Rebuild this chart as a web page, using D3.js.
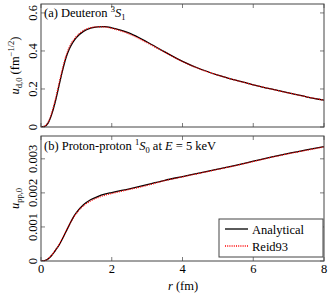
<!DOCTYPE html>
<html><head><meta charset="utf-8">
<script src="https://cdn.jsdelivr.net/npm/d3@7"></script>
<style>body{margin:0;background:#fff}svg{display:block}</style>
</head><body><svg id="c" width="332" height="299" font-family="'Liberation Serif','DejaVu Serif','Noto Serif','Times New Roman',Times,serif"></svg>
<script>
// Deuteron 3S1
const rD = [0,0.1,0.2,0.3,0.4,0.5,0.6,0.7,0.8,0.9,1.0,1.2,1.4,1.6,1.8,2.0,2.25,2.5,2.75,3.0,3.5,4.0,4.5,5.0,5.5,6.0,6.5,7.0,7.5,8.0];
const uDAnalytic = [0,0.003,0.02,0.065,0.13,0.21,0.29,0.36,0.41,0.445,0.47,0.503,0.52,0.527,0.528,0.522,0.51,0.494,0.472,0.447,0.395,0.345,0.305,0.273,0.246,0.222,0.200,0.179,0.159,0.141];
const uDReid = [0,0.004,0.024,0.072,0.14,0.22,0.30,0.37,0.42,0.453,0.476,0.507,0.522,0.527,0.526,0.519,0.506,0.489,0.467,0.443,0.393,0.344,0.304,0.273,0.246,0.222,0.200,0.179,0.159,0.141];
// Proton-proton 1S0, E = 5 keV
const rP = [0,0.1,0.2,0.3,0.4,0.5,0.6,0.7,0.8,0.9,1.0,1.2,1.4,1.6,1.8,2.0,2.5,3.0,3.5,4.0,4.5,5.0,5.5,6.0,6.5,7.0,7.5,8.0];
const uPAnalytic = [0,0.00001,0.00006,0.00016,0.0003,0.00045,0.00064,0.00085,0.00106,0.00126,0.00142,0.00165,0.0018,0.00189,0.00196,0.00201,0.00212,0.00224,0.00237,0.00248,0.00259,0.0027,0.00281,0.00293,0.00305,0.00316,0.00326,0.00336];
const uPReid = [0,0.00001,0.00007,0.00017,0.00031,0.00046,0.00065,0.00086,0.00106,0.00125,0.0014,0.00162,0.00176,0.00186,0.00193,0.00198,0.0021,0.00222,0.00236,0.00247,0.00258,0.00269,0.0028,0.00292,0.00304,0.00315,0.00325,0.00335];
const xTicks = [0,2,4,6,8];
const yTicksA = [0,0.2,0.4,0.6];
const yTicksB = [0,0.001,0.002,0.003];
const yTickLabelsB = ["0","0.001","0.002","0.003"];
const legendLabels = ["Analytical","Reid93"];

const svg = d3.select("#c");
const L = 41, R = 324;
const x = d3.scaleLinear().domain([0,8]).range([L,R]);
const panels = [
  {top:4, bottom:127, ymax:0.647, ticks:yTicksA, labels:yTicksA.map(d=>d===0?"0":d.toFixed(1)), r:rD, a:uDAnalytic, b:uDReid, xlabels:false},
  {top:136, bottom:261, ymax:0.00367, ticks:yTicksB, labels:yTickLabelsB, r:rP, a:uPAnalytic, b:uPReid, xlabels:true}
];
const frameCol = "#444";
const fs = 12.5, sfs = 8.5;
panels.forEach((p,i)=>{
  const y = d3.scaleLinear().domain([0,p.ymax]).range([p.bottom,p.top]);
  const g = svg.append("g");
  const clipId = "clip"+i;
  svg.append("clipPath").attr("id",clipId).append("rect").attr("x",L).attr("y",p.top).attr("width",R-L).attr("height",p.bottom-p.top);
  const tl = 4;
  xTicks.forEach(t=>{
    g.append("line").attr("x1",x(t)).attr("x2",x(t)).attr("y1",p.bottom).attr("y2",p.bottom-tl).attr("stroke",frameCol).attr("stroke-width",0.7);
    g.append("line").attr("x1",x(t)).attr("x2",x(t)).attr("y1",p.top).attr("y2",p.top+tl).attr("stroke",frameCol).attr("stroke-width",0.7);
  });
  p.ticks.forEach((t,k)=>{
    g.append("line").attr("x1",L).attr("x2",L+tl).attr("y1",y(t)).attr("y2",y(t)).attr("stroke",frameCol).attr("stroke-width",0.7);
    g.append("line").attr("x1",R).attr("x2",R-tl).attr("y1",y(t)).attr("y2",y(t)).attr("stroke",frameCol).attr("stroke-width",0.7);
    g.append("text").attr("transform",`translate(36.5,${y(t)}) rotate(-90)`).attr("text-anchor","middle").attr("font-size",12.5).text(p.labels[k]);
  });
  const lineA = d3.line().x((d,j)=>x(p.r[j])).y(d=>y(d)).curve(d3.curveMonotoneX);
  g.append("path").attr("clip-path",`url(#${clipId})`).attr("d",lineA(p.a)).attr("fill","none").attr("stroke","#000").attr("stroke-width",1.3);
  g.append("path").attr("clip-path",`url(#${clipId})`).attr("d",lineA(p.b)).attr("fill","none").attr("stroke","#f00").attr("stroke-width",1.3).attr("stroke-dasharray","1,1.2");
  g.append("rect").attr("x",L).attr("y",p.top).attr("width",R-L).attr("height",p.bottom-p.top).attr("fill","none").attr("stroke",frameCol).attr("stroke-width",1);
  if(p.xlabels){
    xTicks.forEach(t=>{
      g.append("text").attr("x",x(t)).attr("y",273).attr("text-anchor","middle").attr("font-size",12.5).text(t);
    });
  }
});
// panel titles
const tA = svg.append("text").attr("x",44).attr("y",17).attr("font-size",fs);
tA.append("tspan").text("(a) Deuteron ");
tA.append("tspan").attr("font-size",sfs).attr("dy",-5).text("3");
tA.append("tspan").attr("font-style","italic").attr("dy",5).text("S");
tA.append("tspan").attr("font-size",sfs).attr("dy",3).text("1");
const tB = svg.append("text").attr("x",44).attr("y",150).attr("font-size",fs);
tB.append("tspan").text("(b) Proton-proton ");
tB.append("tspan").attr("font-size",sfs).attr("dy",-5).text("1");
tB.append("tspan").attr("font-style","italic").attr("dy",5).text("S");
tB.append("tspan").attr("font-size",sfs).attr("dy",3).text("0");
tB.append("tspan").attr("dy",-3).text(" at ");
tB.append("tspan").attr("font-style","italic").text("E");
tB.append("tspan").text(" = 5 keV");
// y labels
const yA = svg.append("text").attr("transform",`translate(19,${(4+127)/2}) rotate(-90)`).attr("text-anchor","middle").attr("font-size",fs);
yA.append("tspan").attr("font-style","italic").text("u");
yA.append("tspan").attr("font-size",sfs).attr("dy",3).text("d,0");
yA.append("tspan").attr("dy",-3).text(" (fm");
yA.append("tspan").attr("font-size",sfs).attr("dy",-5).text("−1/2");
yA.append("tspan").attr("dy",5).text(")");
const yB = svg.append("text").attr("transform",`translate(19,${(136+261)/2}) rotate(-90)`).attr("text-anchor","middle").attr("font-size",fs);
yB.append("tspan").attr("font-style","italic").text("u");
yB.append("tspan").attr("font-size",sfs).attr("dy",3).text("pp,0");
// x label
const xl = svg.append("text").attr("x",183).attr("y",290).attr("text-anchor","middle").attr("font-size",fs);
xl.append("tspan").attr("font-style","italic").text("r");
xl.append("tspan").text(" (fm)");
// legend
const lg = svg.append("g");
lg.append("rect").attr("x",219).attr("y",219).attr("width",104).attr("height",38).attr("fill","#fff").attr("stroke",frameCol).attr("stroke-width",1);
[{c:"#000",d:null,w:1.3},{c:"#f00",d:"1,1.2",w:1.3}].forEach((s,k)=>{
  const yy = 229 + k*17;
  lg.append("line").attr("x1",225).attr("x2",248).attr("y1",yy).attr("y2",yy).attr("stroke",s.c).attr("stroke-width",s.w).attr("stroke-dasharray",s.d);
  lg.append("text").attr("x",252).attr("y",yy+4.5).attr("font-size",fs).text(legendLabels[k]);
});
</script></body></html>
